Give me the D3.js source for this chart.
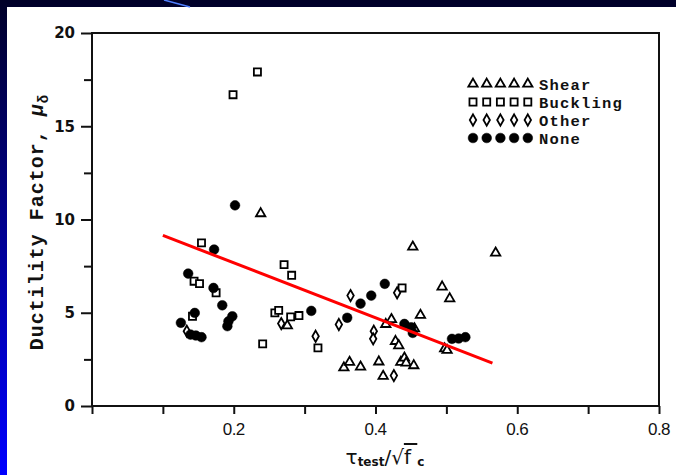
<!DOCTYPE html>
<html>
<head>
<meta charset="utf-8">
<script src="https://cdn.jsdelivr.net/npm/d3@7"></script>
<style>
  body { margin: 0; background: #fff; }
  svg { display: block; }
</style>
</head>
<body>
<div id="chart"></div>
<script>
// points: [tau_test/sqrt(fc), ductility]
var shear = [[0.238,10.32],[0.4526,8.53],[0.5695,8.21],[0.494,6.39],[0.5047,5.76],[0.4634,4.87],
  [0.4225,4.64],[0.4145,4.38],[0.455,4.15],[0.2756,4.31],[0.4282,3.47],[0.4328,3.24],[0.4976,3.07],
  [0.501,2.99],[0.3554,2.05],[0.3634,2.35],[0.3789,2.10],[0.4047,2.37],[0.4357,2.35],[0.4408,2.58],
  [0.4432,2.31],[0.454,2.17],[0.4108,1.60]];
var buckling = [[0.2334,17.91],[0.199,16.69],[0.1545,8.75],[0.271,7.58],[0.2817,7.01],[0.144,6.69],
  [0.1517,6.56],[0.1751,6.07],[0.1418,4.81],[0.258,4.99],[0.2634,5.13],[0.2803,4.78],[0.292,4.85],
  [0.2408,3.33],[0.3188,3.12],[0.4375,6.33]];
var other = [[0.1338,4.01],[0.267,4.42],[0.3155,3.74],[0.3483,4.37],[0.3648,5.92],[0.4305,6.07],
  [0.3976,4.01],[0.3967,3.60],[0.4259,1.63]];
var none = [[0.2018,10.76],[0.1723,8.39],[0.1357,7.10],[0.1714,6.33],[0.1838,5.40],[0.145,4.99],
  [0.198,4.81],[0.1925,4.54],[0.191,4.28],[0.1254,4.46],[0.139,3.83],[0.1465,3.78],[0.1545,3.69],
  [0.3094,5.10],[0.3601,4.73],[0.3789,5.49],[0.394,5.92],[0.4131,6.55],[0.4408,4.40],[0.4503,4.22],
  [0.4526,3.92],[0.5079,3.60],[0.5173,3.62],[0.5268,3.69]];
var trend = [[0.1,9.15],[0.565,2.3]];
var xTicks = [0,0.1,0.2,0.3,0.4,0.5,0.6,0.7,0.8];
var xLabels = [0.2,0.4,0.6,0.8];
var yMajor = [0,5,10,15,20];
var yMinor = [2.5,7.5,12.5,17.5];
var categories = ["Shear","Buckling","Other","None"];

var W = 676, H = 475;
var svg = d3.select("#chart").append("svg").attr("width",W).attr("height",H);

// slide background
var grad = svg.append("defs").append("linearGradient")
  .attr("id","bg").attr("x1",0).attr("y1",0).attr("x2",0).attr("y2",1);
grad.append("stop").attr("offset","0%").attr("stop-color","#000028");
grad.append("stop").attr("offset","100%").attr("stop-color","#0000ff");
svg.append("rect").attr("width",W).attr("height",H).attr("fill","url(#bg)");
svg.append("rect").attr("x",7).attr("y",7).attr("width",W-7).attr("height",H-7).attr("fill","#fff");
svg.append("line").attr("x1",164).attr("y1",0).attr("x2",190).attr("y2",7)
  .attr("stroke","#4f7fff").attr("stroke-width",1.5);

var x = d3.scaleLinear().domain([0,0.8]).range([92,659]);
var y = d3.scaleLinear().domain([0,20]).range([406,33]);

// frame
svg.append("rect").attr("x",x(0)).attr("y",y(20))
  .attr("width",x(0.8)-x(0)).attr("height",y(0)-y(20))
  .attr("fill","none").attr("stroke","#111").attr("stroke-width",2);

svg.append("g").attr("transform",`translate(0,${y(0)})`)
  .call(d3.axisBottom(x).tickValues(xTicks).tickSize(8).tickFormat(""))
  .call(g => g.select(".domain").remove())
  .call(g => g.selectAll("line").attr("stroke","#111").attr("stroke-width",2));
svg.append("g").selectAll("text").data(xLabels).enter().append("text")
  .attr("x",d => x(d)).attr("y",y(0)+29)
  .attr("text-anchor","middle")
  .style("font-family","'Liberation Sans', Arial, sans-serif").style("font-size","17px")
  .style("letter-spacing","-0.5px").attr("fill","#111")
  .text(d => d3.format(".1f")(d));

svg.append("g").attr("transform",`translate(${x(0)},0)`)
  .call(d3.axisLeft(y).tickValues(yMajor).tickSize(11).tickPadding(6))
  .call(g => g.select(".domain").remove())
  .call(g => g.selectAll("line").attr("stroke","#111").attr("stroke-width",2))
  .call(g => g.selectAll("text").attr("fill","#111")
    .style("font-family","'DejaVu Sans', sans-serif").style("font-size","15px").style("font-weight","bold"));
svg.append("g").attr("transform",`translate(${x(0)},0)`)
  .call(d3.axisLeft(y).tickValues(yMinor).tickSize(8).tickFormat(""))
  .call(g => g.select(".domain").remove())
  .call(g => g.selectAll("line").attr("stroke","#111").attr("stroke-width",2));

// axis titles
var yt = svg.append("text")
  .attr("transform","translate(43,222) rotate(-90)")
  .attr("text-anchor","middle")
  .style("font-family","'Liberation Mono', 'Courier New', monospace").style("font-weight","bold")
  .style("font-size","20px").style("letter-spacing","1px").attr("fill","#111");
yt.append("tspan").text("Ductility Factor, ");
yt.append("tspan").style("font-style","italic").text("μ");
yt.append("tspan").attr("dy",5).style("font-size","14px").text("δ");

var xt = svg.append("text").attr("x",385).attr("y",464)
  .attr("text-anchor","middle").attr("fill","#111")
  .style("font-family","'DejaVu Sans', sans-serif").style("font-size","20px");
xt.append("tspan").text("τ");
xt.append("tspan").attr("dy",2).style("font-size","12px").style("font-weight","bold").text("test");
xt.append("tspan").attr("dy",-2).text("/√");
xt.append("tspan").style("text-decoration","overline").text("f ");
xt.append("tspan").attr("dy",2).style("font-size","12px").style("font-weight","bold").text("c");

// markers
var sym = {
  Shear: d3.symbol().type(d3.symbolTriangle).size(38),
  Buckling: d3.symbol().type(d3.symbolSquare).size(50),
  Other: d3.symbol().type(d3.symbolDiamond).size(36),
  None: d3.symbol().type(d3.symbolCircle).size(74)
};
function drawSet(data, cat) {
  svg.append("g").selectAll("path").data(data).enter().append("path")
    .attr("transform",d => `translate(${x(d[0])},${y(d[1])})`)
    .attr("d",sym[cat]())
    .attr("fill",cat === "None" ? "#000" : "#fff")
    .attr("stroke","#000").attr("stroke-width",cat === "None" ? 0.5 : 1.8);
}
drawSet(buckling,"Buckling");
drawSet(other,"Other");
drawSet(shear,"Shear");
drawSet(none,"None");

// regression line
svg.append("path").datum(trend)
  .attr("d",d3.line().x(d => x(d[0])).y(d => y(d[1])))
  .attr("stroke","#ff0000").attr("stroke-width",3).attr("fill","none");

// legend
var legend = svg.selectAll(".legend").data(categories).enter().append("g")
  .attr("class","legend")
  .attr("transform",(d,i) => `translate(473,${84 + i*18})`);
legend.each(function(cat) {
  d3.select(this).selectAll("path").data(d3.range(5)).enter().append("path")
    .attr("transform",k => `translate(${k*13.7},0)`)
    .attr("d",sym[cat]())
    .attr("fill",cat === "None" ? "#000" : "#fff")
    .attr("stroke","#000").attr("stroke-width",cat === "None" ? 0.5 : 1.8);
});
legend.append("text")
  .attr("x",66).attr("y",5.5)
  .style("font-family","'Liberation Mono', 'Courier New', monospace").style("font-weight","bold")
  .style("font-size","15.5px").style("letter-spacing","1.2px").attr("fill","#111")
  .text(d => d);
</script>
</body>
</html>
